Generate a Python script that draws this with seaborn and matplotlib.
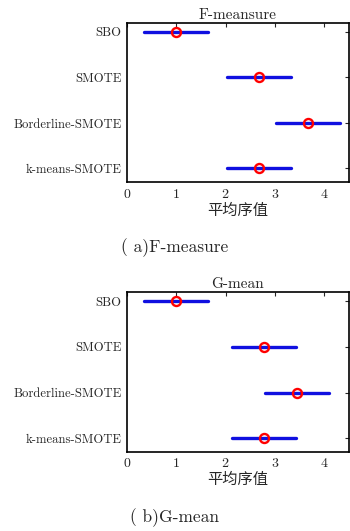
import pandas as pd
import matplotlib.pyplot as plt
import seaborn as sns

# Métodos comparados (ordem de cima para baixo)
methods = ['SBO', 'SMOTE', 'Borderline-SMOTE', 'k-means-SMOTE']

# Valores: posto médio e intervalo (limite inferior / superior)
f_mean = [1.00, 2.67, 3.67, 2.67]
f_low = [0.35, 2.02, 3.02, 2.02]
f_high = [1.65, 3.32, 4.32, 3.32]

g_mean = [1.00, 2.78, 3.44, 2.78]
g_low = [0.35, 2.13, 2.80, 2.13]
g_high = [1.65, 3.43, 4.09, 3.43]

titles = ['F-meansure', 'G-mean']
captions = ['( a)F-measure', '( b)G-mean']
xlabel = '平均序值'
xticks = [0, 1, 2, 3, 4]

sns.set_style('white')
plt.rcParams['font.family'] = ['cmr10', 'Noto Sans CJK SC', 'DejaVu Sans']
plt.rcParams['axes.formatter.use_mathtext'] = True


def build_df(low, mean, high):
    rows = []
    for m, lo, mu, hi in zip(methods, low, mean, high):
        for v in (lo, mu, hi):
            rows.append({'method': m, 'rank': v})
    return pd.DataFrame(rows)


fig = plt.figure(figsize=(3.5, 5.31), dpi=100)
boxes = [[0.363, 0.657, 0.634, 0.300], [0.363, 0.149, 0.634, 0.301]]
cap_y = [0.516, 0.008]
series = [(f_low, f_mean, f_high), (g_low, g_mean, g_high)]

for box, title, cap, cy, (lo, mu, hi) in zip(boxes, titles, captions, cap_y, series):
    ax = fig.add_axes(box)
    df = build_df(lo, mu, hi)
    sns.pointplot(
        data=df, x='rank', y='method', order=methods, ax=ax,
        estimator='median', errorbar=('pi', 100),
        color='#1010e0', linestyle='none', marker='o', markersize=6.5,
        markerfacecolor='none', markeredgecolor='red', markeredgewidth=1.7,
        err_kws={'linewidth': 2.4, 'color': '#1010e0', 'zorder': 1},
    )
    for ln in ax.lines:
        if ln.get_marker() == 'o':
            ln.set_zorder(3)
    ax.set_xlim(0, 4.5)
    ax.set_ylim(3.3, -0.2)
    ax.set_xticks(xticks)
    ax.set_title(title, fontsize=11, pad=3)
    ax.set_xlabel(xlabel, fontsize=11, labelpad=2)
    ax.set_ylabel('')
    ax.tick_params(direction='in', top=True, right=True, length=3, pad=4)
    ax.tick_params(axis='y', labelsize=9.1)
    ax.tick_params(axis='x', labelsize=10)
    for s in ax.spines.values():
        s.set_linewidth(1.2)
        s.set_color('black')
    fig.text(0.5, cy, cap, ha='center', va='bottom', fontsize=12.5)

plt.savefig('out.png', dpi=100)
